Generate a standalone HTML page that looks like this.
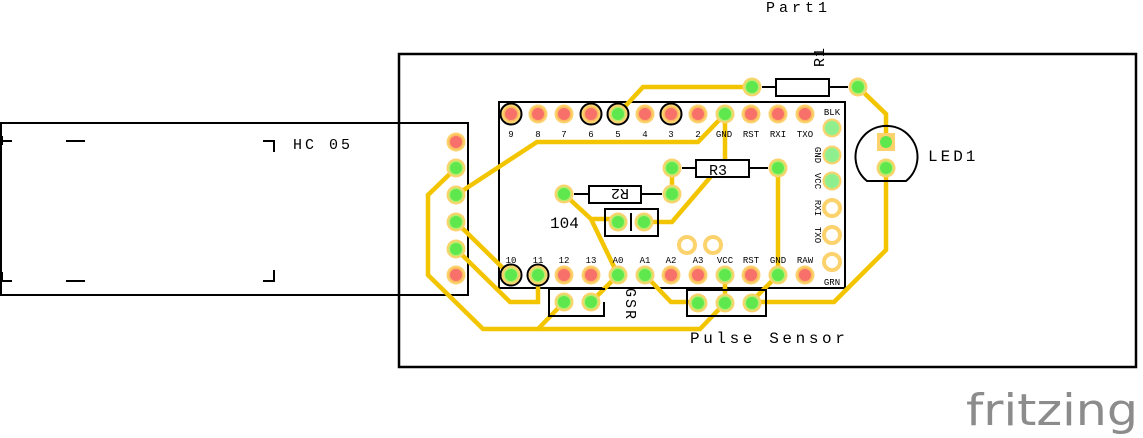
<!DOCTYPE html>
<html><head><meta charset="utf-8"><style>
html,body{margin:0;padding:0;background:#fff;}
svg{display:block;}
text{font-family:"Liberation Mono","DejaVu Sans Mono",monospace;fill:#000;}
</style></head><body>
<svg width="1143" height="438" viewBox="0 0 1143 438" xmlns="http://www.w3.org/2000/svg">
<defs>
<g id="pr"><circle r="9.5" fill="#fcd26c"/><circle r="7.5" fill="#fcb85e"/><circle r="6" fill="#f7706a"/></g>
<g id="pg"><circle r="9.5" fill="#fcd26c"/><circle r="7.5" fill="#b8ec6a"/><circle r="6" fill="#5fe84e"/></g>
<g id="pl"><circle r="9.5" fill="#fcd26c"/><circle r="7.5" fill="#a9ec88"/><circle r="6.5" fill="#8fef8f"/></g>
<g id="ph"><circle r="8" fill="none" stroke="#fcd26c" stroke-width="4"/></g>
</defs>

<rect x="399" y="54" width="737" height="313" fill="none" stroke="#000" stroke-width="2.5"/>
<rect x="1" y="123" width="467" height="172" fill="none" stroke="#000" stroke-width="2"/>
<g stroke="#000" stroke-width="2" fill="none">
<path d="M2 141 H12 M2 136 V145 M66 141 H85 M263 141 H274 V152 M2 281 H12 M2 272 V282 M66 281 H85 M263 281 H274 V270"/>
</g>
<text x="293" y="149" font-size="15" letter-spacing="3">HC 05</text>

<rect x="499" y="102" width="346" height="186" fill="none" stroke="#000" stroke-width="2"/>

<g stroke="#f2c500" stroke-width="4.5" fill="none" stroke-linejoin="miter">
<path d="M752 87 H643 L618 114"/>
<path d="M858 87 L886 114 V142"/>
<path d="M886 168 V250 L834 302 H751"/>
<path d="M725 114 L698 142 H537 L456 195"/>
<path d="M725 114 V160 L672 222 H644"/>
<path d="M672 168 V194"/>
<path d="M778 168 V275"/>
<path d="M564 194 L591 219 L618 275"/>
<path d="M590 219 H618"/>
<path d="M618 275 L591 302"/>
<path d="M564 302 L538 329 H483 L428 275 V195 L456 168"/>
<path d="M538 329 H700 L725 303 V275"/>
<path d="M456 222 L510 275"/>
<path d="M456 249 L510 302 H538 V275"/>
<path d="M645 275 L671 302 H698"/>
<path d="M778 275 L751 302"/>
</g>

<path d="M762 87 H776 M829 87 H848" stroke="#000" stroke-width="2"/>
<rect x="776" y="79" width="53" height="17" fill="#fff" stroke="#000" stroke-width="2"/>
<text transform="translate(824,67) rotate(-90)" font-size="15" letter-spacing="1">R1</text>
<use href="#pg" x="752" y="87"/><use href="#pg" x="858" y="87"/>

<path d="M682 168 H696 M749 168 H768" stroke="#000" stroke-width="2"/>
<rect x="696" y="160" width="53" height="17" fill="#fff" stroke="#000" stroke-width="2"/>
<text x="709" y="175" font-size="15">R3</text>
<use href="#pg" x="672" y="168"/><use href="#pg" x="778" y="168"/>

<path d="M574 194 H589 M641 194 H662" stroke="#000" stroke-width="2"/>
<rect x="589" y="186" width="52" height="17" fill="#fff" stroke="#000" stroke-width="2"/>
<text transform="translate(629,189) rotate(180)" font-size="15">R2</text>
<use href="#pg" x="564" y="194"/><use href="#pg" x="672" y="194"/>

<rect x="605" y="209" width="53" height="27" fill="none" stroke="#000" stroke-width="2"/>
<path d="M631 213 V231" stroke="#000" stroke-width="2"/>
<text x="550" y="228" font-size="16">104</text>
<use href="#pg" x="618" y="222"/><use href="#pg" x="644" y="222"/>

<use href="#ph" x="687" y="245"/><use href="#ph" x="713" y="245"/>

<path d="M604 290 V289 H549 V316 H604 V302" fill="none" stroke="#000" stroke-width="2"/>
<text transform="translate(626,288) rotate(90)" font-size="15" letter-spacing="2">GSR</text>
<use href="#pg" x="564" y="302"/><use href="#pg" x="591" y="302"/>

<rect x="687" y="290" width="79" height="26" fill="none" stroke="#000" stroke-width="2"/>
<text x="690" y="343" font-size="16" letter-spacing="3.6">Pulse Sensor</text>
<use href="#pg" x="698" y="303"/><use href="#pg" x="725" y="303"/><use href="#pg" x="752" y="303"/>

<path d="M867 181 A31 31 0 1 1 906 181 Z" fill="none" stroke="#000" stroke-width="2"/>
<rect x="877" y="133" width="18" height="18" fill="#fcd26c"/>
<circle cx="886" cy="142" r="6" fill="#5fe84e"/>
<use href="#pg" x="886" y="168"/>
<text x="928" y="161" font-size="16" letter-spacing="3">LED1</text>

<use href="#pr" x="511" y="114"/><use href="#pr" x="538" y="114"/><use href="#pr" x="564" y="114"/>
<use href="#pr" x="591" y="114"/><use href="#pg" x="618" y="114"/><use href="#pr" x="645" y="114"/>
<use href="#pr" x="671" y="114"/><use href="#pr" x="698" y="114"/><use href="#pg" x="725" y="114"/>
<use href="#pr" x="751" y="114"/><use href="#pr" x="778" y="114"/><use href="#pr" x="805" y="114"/>
<g fill="none" stroke="#000" stroke-width="2">
<circle cx="511" cy="114" r="10.5"/><circle cx="591" cy="114" r="10.5"/><circle cx="618" cy="114" r="10.5"/><circle cx="671" cy="114" r="10.5"/>
<circle cx="511" cy="275" r="10.5"/><circle cx="538" cy="275" r="10.5"/>
</g>
<g font-size="9" text-anchor="middle">
<text x="511" y="137">9</text>
<text x="538" y="137">8</text><text x="564" y="137">7</text><text x="591" y="137">6</text><text x="618" y="137">5</text>
<text x="645" y="137">4</text><text x="671" y="137">3</text><text x="698" y="137">2</text><text x="724" y="137">GND</text>
<text x="751" y="137">RST</text><text x="778" y="137">RXI</text><text x="805" y="137">TXO</text>
<text x="832" y="115">BLK</text><text x="832" y="285">GRN</text>
<text x="511" y="263">10</text><text x="538" y="263">11</text><text x="564" y="263">12</text><text x="591" y="263">13</text>
<text x="618" y="263">A0</text><text x="645" y="263">A1</text><text x="671" y="263">A2</text><text x="698" y="263">A3</text>
<text x="725" y="263">VCC</text><text x="751" y="263">RST</text><text x="778" y="263">GND</text><text x="805" y="263">RAW</text>
<text transform="translate(815,155) rotate(90)">GND</text>
<text transform="translate(815,181) rotate(90)">VCC</text>
<text transform="translate(815,208) rotate(90)">RXI</text>
<text transform="translate(815,235) rotate(90)">TXO</text>
</g>
<use href="#pg" x="511" y="275"/><use href="#pg" x="538" y="275"/><use href="#pr" x="564" y="275"/>
<use href="#pr" x="591" y="275"/><use href="#pg" x="618" y="275"/><use href="#pg" x="645" y="275"/>
<use href="#pr" x="671" y="275"/><use href="#pr" x="698" y="275"/><use href="#pg" x="725" y="275"/>
<use href="#pr" x="751" y="275"/><use href="#pg" x="778" y="275"/><use href="#pr" x="805" y="275"/>
<use href="#pl" x="832" y="128"/><use href="#pl" x="832" y="155"/><use href="#pl" x="832" y="181"/>
<use href="#ph" x="832" y="208"/><use href="#ph" x="832" y="235"/><use href="#ph" x="832" y="262"/>

<use href="#pr" x="456" y="142"/><use href="#pg" x="456" y="168"/><use href="#pg" x="456" y="195"/>
<use href="#pg" x="456" y="222"/><use href="#pg" x="456" y="249"/><use href="#pr" x="456" y="275"/>

<text x="766" y="12" font-size="15" letter-spacing="4">Part1</text>

<text x="966" y="425" font-size="44" textLength="172" lengthAdjust="spacingAndGlyphs" style="font-family:'DejaVu Sans','Liberation Sans',sans-serif;fill:#8c8c8c">fritzing</text>
</svg>
</body></html>
